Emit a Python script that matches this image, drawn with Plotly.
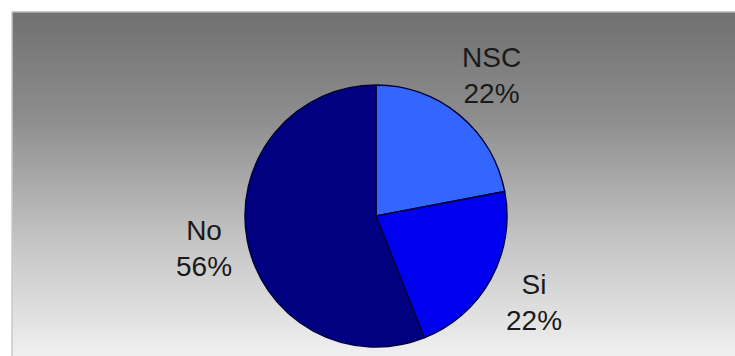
import math
import plotly.graph_objects as go

# Survey answers, clockwise from 12 o'clock
labels = ["NSC", "Si", "No"]
values = [22, 22, 56]
colors = ["#3366FF", "#0000F0", "#000080"]

W, H = 735, 356
CX, CY, R = 376, 216, 131          # pie centre / radius in pixels

fig = go.Figure()

fig.add_trace(go.Pie(
    labels=labels,
    values=values,
    sort=False,
    direction="clockwise",
    rotation=0,
    textinfo="none",
    hoverinfo="label+percent",
    showlegend=False,
    marker=dict(colors=colors, line=dict(color="#00003C", width=1.5)),
    domain=dict(x=[(CX - R) / W, (CX + R) / W],
                y=[1 - (CY + R) / H, 1 - (CY - R) / H]),
))

# Vertical grey gradient behind the pie (top-left white margin left open)
x0, y0 = 12, 12
stops = [(12, 112), (120, 142), (240, 196), (356, 240)]


def grey_at(py):
    for (a, ga), (b, gb) in zip(stops, stops[1:]):
        if a <= py <= b:
            t = (py - a) / (b - a)
            return round(ga + (gb - ga) * t)
    return stops[-1][1]


shapes = []
step = 2
py = y0
while py < H:
    g = grey_at(py + step / 2)
    shapes.append(dict(
        type="rect", xref="paper", yref="paper", layer="below",
        x0=x0 / W, x1=1, y0=1 - min(py + step, H) / H, y1=1 - py / H,
        fillcolor=f"rgb({g},{g},{g})", line=dict(width=0),
    ))
    py += step
# light frame line along the top and left edge of the grey area
shapes.append(dict(type="line", xref="paper", yref="paper", layer="below",
                   x0=x0 / W, x1=1, y0=1 - y0 / H, y1=1 - y0 / H,
                   line=dict(color="#b4b4b4", width=1.5)))
shapes.append(dict(type="line", xref="paper", yref="paper", layer="below",
                   x0=x0 / W, x1=x0 / W, y0=0, y1=1 - y0 / H,
                   line=dict(color="#c8c8c8", width=1.5)))

# Category / percentage labels placed outside each slice at its mid-angle
total = sum(values)
annotations = []
start = 0.0
half_w, half_h, gap = 29, 29, 10
for lab, val in zip(labels, values):
    frac = val / total
    mid = (start + frac / 2) * 2 * math.pi
    ux, uy = math.sin(mid), -math.cos(mid)
    d = R + gap + half_w * abs(ux) + half_h * abs(uy)
    px, pyy = CX + d * ux, CY + d * uy
    annotations.append(dict(
        x=px / W, y=1 - pyy / H, xref="paper", yref="paper",
        text=f"{lab}<br>{round(frac * 100)}%", showarrow=False,
        xanchor="center", yanchor="middle", align="center",
        font=dict(family="Arial, Liberation Sans, sans-serif", size=28, color="#1a1a1a"),
    ))
    start += frac

fig.update_layout(
    width=W, height=H,
    margin=dict(l=0, r=0, t=0, b=0),
    paper_bgcolor="white",
    plot_bgcolor="white",
    shapes=shapes,
    annotations=annotations,
)

fig.write_html("out.html")
